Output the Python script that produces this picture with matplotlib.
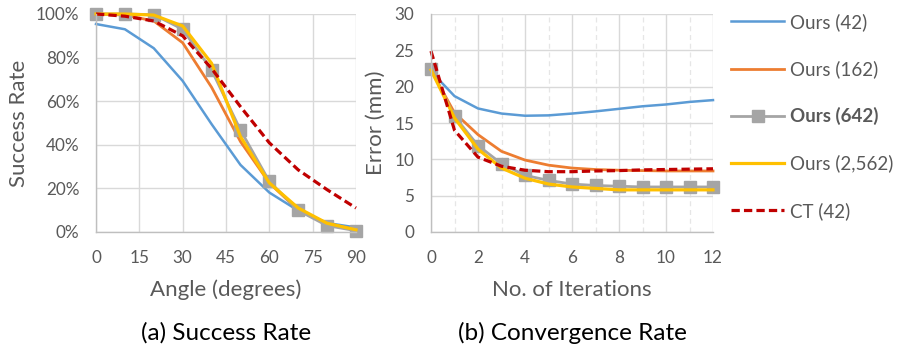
import matplotlib
matplotlib.use("Agg")
import matplotlib.pyplot as plt
from matplotlib.ticker import MultipleLocator, FuncFormatter

plt.rcParams['font.family'] = ['Lato', 'DejaVu Sans']

# data : (a) success rate vs angle
angles = [0, 10, 20, 30, 40, 50, 60, 70, 80, 90]
sr_42 = [95.4, 93.0, 84.3, 69.3, 49.5, 30.8, 18.1, 9.8, 4.1, 2.1]
sr_162 = [100, 99.5, 96.8, 86.8, 66.4, 41.5, 22.5, 10.0, 4.0, 1.0]
sr_642 = [100, 100, 99.7, 93.0, 74.3, 46.8, 23.2, 9.9, 2.9, 0.6]
sr_2562 = [100, 100, 99.5, 94.5, 77.4, 43.8, 22.5, 11.0, 4.0, 1.0]
sr_ct = [100, 99.0, 96.8, 90.0, 75.0, 57.5, 40.9, 28.5, 19.4, 11.0]

# data : (b) error vs iterations
iters = list(range(13))
err_42 = [22.1, 18.7, 17.0, 16.3, 16.0, 16.05, 16.3, 16.6, 16.95, 17.3, 17.55, 17.9, 18.15]
err_162 = [22.3, 16.4, 13.4, 11.1, 9.9, 9.2, 8.8, 8.6, 8.5, 8.45, 8.4, 8.4, 8.4]
err_642 = [22.4, 15.9, 11.9, 9.4, 7.8, 7.1, 6.6, 6.4, 6.3, 6.2, 6.2, 6.2, 6.2]
err_2562 = [22.3, 15.7, 11.4, 8.8, 7.4, 6.6, 6.2, 6.0, 5.8, 5.8, 5.8, 5.8, 5.8]
err_ct = [24.9, 14.0, 10.3, 9.05, 8.5, 8.3, 8.3, 8.4, 8.45, 8.55, 8.6, 8.65, 8.7]

labels = ["Ours (42)", "Ours (162)", "Ours (642)", "Ours (2,562)", "CT (42)"]
colors = ["#5B9BD5", "#ED7D31", "#A5A5A5", "#FFC000", "#C00000"]
txt = "#595959"
grid = "#D9D9D9"

fig = plt.figure(figsize=(9.08, 3.54), dpi=100)
W, H = 908, 354
ax1 = fig.add_axes([96 / W, 1 - 232 / H, 260 / W, 218 / H])
ax2 = fig.add_axes([431 / W, 1 - 232 / H, 282 / W, 218 / H])


def draw(ax, x, series):
    lines = []
    styles = [dict(lw=1.8), dict(lw=2.0),
              dict(lw=2.0, marker="s", ms=9, mec="#A5A5A5"),
              dict(lw=2.3), dict(lw=2.3, ls=(0, (2.6, 1.3)))]
    for y, c, st in zip(series, colors, styles):
        l, = ax.plot(x, y, color=c, solid_joinstyle="round", clip_on=False, **st)
        lines.append(l)
    # draw order like Excel: gray under, yellow above
    lines[2].set_zorder(2.1)
    lines[3].set_zorder(2.2)
    lines[4].set_zorder(2.3)
    for s in ["top", "right"]:
        ax.spines[s].set_visible(False)
    for s in ["left", "bottom"]:
        ax.spines[s].set_color("#BFBFBF")
        ax.spines[s].set_linewidth(1.0)
    ax.tick_params(length=0, colors=txt, labelsize=12.3)
    ax.tick_params(axis="x", pad=13)
    ax.tick_params(axis="y", pad=12)
    ax.grid(True, color=grid, lw=1.0)
    ax.set_axisbelow(True)
    return lines


draw(ax1, angles, [sr_42, sr_162, sr_642, sr_2562, sr_ct])
ax1.set_xlim(0, 90)
ax1.set_ylim(0, 100)
ax1.xaxis.set_major_locator(MultipleLocator(15))
ax1.yaxis.set_major_locator(MultipleLocator(20))
ax1.yaxis.set_major_formatter(FuncFormatter(lambda v, p: "%d%%" % v))
ax1.set_xlabel("Angle (degrees)", color=txt, fontsize=16)
ax1.set_ylabel("Success Rate", color=txt, fontsize=16)
ax1.xaxis.set_label_coords(0.5, -(290 - 232) / 218, transform=ax1.transAxes)
ax1.yaxis.set_label_coords(-(96 - 19) / 260, 0.5, transform=ax1.transAxes)
ax1.xaxis.label.set_va("center")
ax1.yaxis.label.set_va("center")

handles = draw(ax2, iters, [err_42, err_162, err_642, err_2562, err_ct])
ax2.set_xlim(0, 12)
ax2.set_ylim(0, 30)
ax2.xaxis.set_major_locator(MultipleLocator(2))
ax2.xaxis.set_minor_locator(MultipleLocator(1))
ax2.yaxis.set_major_locator(MultipleLocator(5))
ax2.grid(True, which="minor", axis="x", color="#E6E6E6", lw=0.9, ls=(0, (4, 3)))
ax2.tick_params(which="minor", length=0)
ax2.set_xlabel("No. of Iterations", color=txt, fontsize=16)
ax2.set_ylabel("Error (mm)", color=txt, fontsize=16)
ax2.xaxis.set_label_coords(0.5, -(290 - 232) / 218, transform=ax2.transAxes)
ax2.yaxis.set_label_coords(-(431 - 376) / 282, 0.5, transform=ax2.transAxes)
ax2.xaxis.label.set_va("center")
ax2.yaxis.label.set_va("center")

leg = fig.legend(handles, labels, loc="upper left", bbox_to_anchor=(731 / W, 1 - 13 / H),
                 frameon=False, fontsize=13.5, labelspacing=1.56, handlelength=2.85,
                 handletextpad=0.3, borderaxespad=0, borderpad=0)
for t in leg.get_texts():
    t.set_color(txt)
leg.get_texts()[2].set_fontweight("bold")

fig.text(226 / W, 1 - 333 / H, "(a) Success Rate", ha="center", va="center", fontsize=17.5, color="black")
fig.text(572 / W, 1 - 333 / H, "(b) Convergence Rate", ha="center", va="center", fontsize=17.5, color="black")

fig.savefig("out.png", dpi=100)
